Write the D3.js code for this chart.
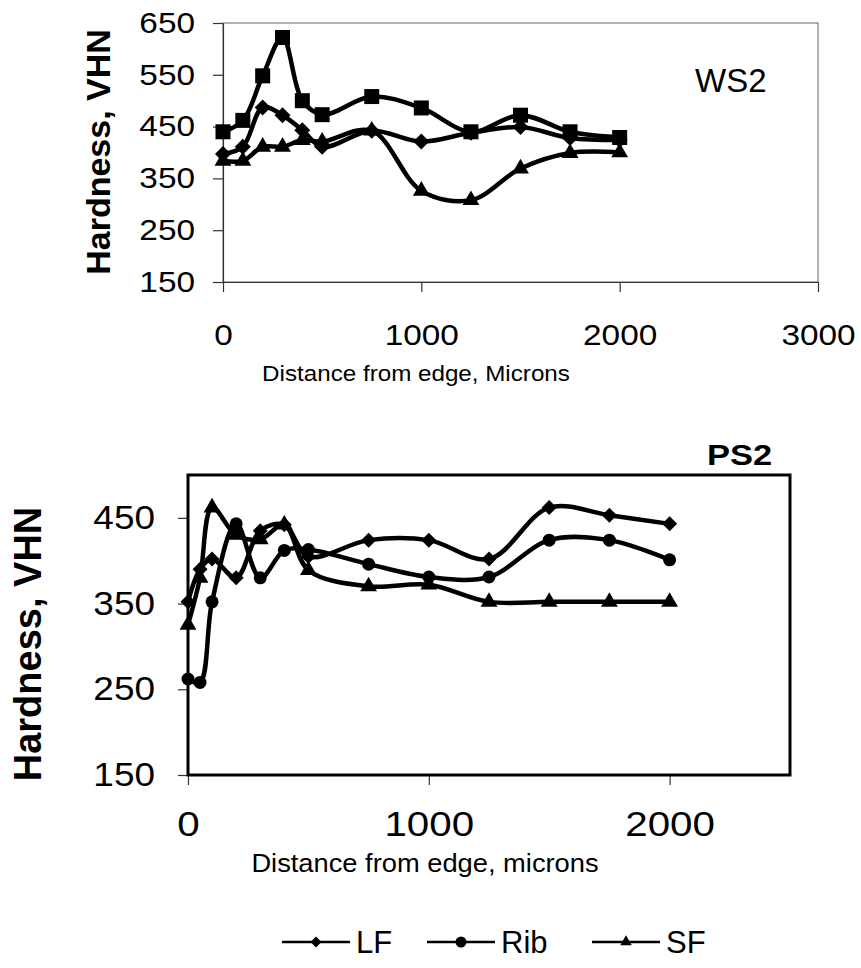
<!DOCTYPE html>
<html>
<head>
<meta charset="utf-8">
<script src="https://cdn.jsdelivr.net/npm/d3@7"></script>
<style>
  body { margin: 0; background: #fff; }
  text { font-family: "Liberation Sans", Arial, sans-serif; fill: #000; }
</style>
</head>
<body>
<script>
// WS2 (top panel)
const wsDist = [0, 100, 200, 300, 400, 500, 750, 1000, 1250, 1500, 1750, 2000]
const wsLF = [397, 411, 487, 472, 443, 411, 442, 421, 438, 449, 428, 424]
const wsRib = [440, 462, 548, 622, 500, 473, 508, 486, 440, 472, 440, 429]
const wsSF = [384, 384, 411, 411, 424, 421, 442, 326, 308, 369, 399, 400]
const wsYTicks = [150, 250, 350, 450, 550, 650]
const wsXTicks = [0, 1000, 2000, 3000]

// PS2 (bottom panel)
const psDist = [0, 50, 100, 200, 300, 400, 500, 750, 1000, 1250, 1500, 1750, 2000]
const psLF = [352, 390, 402, 380, 435, 442, 405, 424, 424, 402, 462, 453, 443]
const psRib = [262, 258, 352, 443, 380, 412, 413, 396, 381, 381, 424, 424, 401]
const psSF = [325, 380, 462, 430, 425, 442, 389, 370, 372, 352, 352, 352, 352]
const psYTicks = [150, 250, 350, 450]
const psXTicks = [0, 1000, 2000]

const legendNames = ['LF', 'Rib', 'SF']

const SX = 1.15 // glyphs in the scan are a bit wider than Arial

const svg = d3.select('body').append('svg')
  .attr('width', 861)
  .attr('height', 968)

svg.append('rect').attr('width', 861).attr('height', 968).attr('fill', '#fff')

function stretch(sel, k) {
  sel.each(function () {
    const t = d3.select(this)
    const x = +t.attr('x') || 0
    const y = +t.attr('y') || 0
    t.attr('x', 0).attr('y', 0)
      .attr('transform', `translate(${x},${y}) scale(${k},1)`)
  })
}

function marker(type, size) {
  if (type === 'diamond') {
    const r = size / 2
    return `M0,${-r}L${r},0L0,${r}L${-r},0Z`
  }
  if (type === 'square') {
    const r = size / 2
    return `M${-r},${-r}H${r}V${r}H${-r}Z`
  }
  if (type === 'circle') {
    return d3.symbol(d3.symbolCircle, Math.PI * (size / 2) ** 2)()
  }
  return d3.symbol(d3.symbolTriangle, size * size * 0.48)()
}

function drawSeries(g, x, y, dist, vals, type, lw, msize) {
  const pts = dist.map((d, i) => [d, vals[i]])
  const line = d3.line()
    .x(d => x(d[0]))
    .y(d => y(d[1]))
    .curve(d3.curveCatmullRom.alpha(0.5))
  g.append('path')
    .attr('d', line(pts))
    .attr('fill', 'none')
    .attr('stroke', '#000')
    .attr('stroke-width', lw)
    .attr('stroke-linejoin', 'round')
  g.selectAll(null)
    .data(pts)
    .enter().append('path')
    .attr('transform', d => `translate(${x(d[0])},${y(d[1])})`)
    .attr('d', marker(type, msize))
    .attr('fill', '#000')
}

const fmt = d3.format('d')

// ---------- top panel: WS2 ----------
const x1 = d3.scaleLinear().domain([0, 3000]).range([223, 818])
const y1 = d3.scaleLinear().domain([150, 650]).range([282, 23])

const gTop = svg.append('g')

gTop.append('rect')
  .attr('x', x1.range()[0]).attr('y', y1.range()[1])
  .attr('width', x1.range()[1] - x1.range()[0])
  .attr('height', y1.range()[0] - y1.range()[1])
  .attr('fill', 'none').attr('stroke', '#666').attr('stroke-width', 1)

const ax1 = gTop.append('g')
  .attr('transform', `translate(${x1.range()[0]},0)`)
  .call(d3.axisLeft(y1).tickValues(wsYTicks).tickFormat(fmt).tickSize(10).tickPadding(18).tickSizeOuter(0))
const bx1 = gTop.append('g')
  .attr('transform', `translate(0,${y1.range()[0]})`)
  .call(d3.axisBottom(x1).tickValues(wsXTicks).tickFormat(fmt).tickSize(10).tickPadding(32).tickSizeOuter(0))

;[ax1, bx1].forEach(a => {
  a.select('.domain').attr('stroke', '#333').attr('stroke-width', 1.2)
  a.selectAll('.tick line').attr('stroke', '#333').attr('stroke-width', 1.2)
  a.selectAll('.tick text')
    .attr('font-size', 29)
    .attr('font-family', '"Liberation Sans", Arial, sans-serif')
    .attr('fill', '#000')
  stretch(a.selectAll('.tick text'), SX)
})

drawSeries(gTop, x1, y1, wsDist, wsRib, 'square', 4.5, 15)
drawSeries(gTop, x1, y1, wsDist, wsLF, 'diamond', 4.5, 16)
drawSeries(gTop, x1, y1, wsDist, wsSF, 'triangle', 4.5, 16)

gTop.append('text')
  .attr('x', 695).attr('y', 92)
  .attr('font-size', 33)
  .text('WS2')

gTop.append('text')
  .attr('transform', 'translate(110,152) rotate(-90)')
  .attr('text-anchor', 'middle')
  .attr('font-size', 34)
  .attr('font-weight', 'bold')
  .text('Hardness, VHN')

gTop.append('text')
  .attr('x', 416).attr('y', 381)
  .attr('text-anchor', 'middle')
  .attr('font-size', 22)
  .text('Distance from edge, Microns')
  .call(stretch, 1.1)

// ---------- bottom panel: PS2 ----------
const x2 = d3.scaleLinear().domain([0, 2500]).range([188, 790])
const y2 = d3.scaleLinear().domain([150, 500]).range([775, 475])

const gBot = svg.append('g')

const ax2 = gBot.append('g')
  .attr('transform', `translate(${x2.range()[0]},0)`)
  .call(d3.axisLeft(y2).tickValues(psYTicks).tickFormat(fmt).tickSize(10).tickPadding(23).tickSizeOuter(0))
const bx2 = gBot.append('g')
  .attr('transform', `translate(0,${y2.range()[0]})`)
  .call(d3.axisBottom(x2).tickValues(psXTicks).tickFormat(fmt).tickSize(10).tickPadding(25).tickSizeOuter(0))

;[ax2, bx2].forEach(a => {
  a.select('.domain').remove()
  a.selectAll('.tick line').attr('stroke', '#333').attr('stroke-width', 1.2)
  a.selectAll('.tick text')
    .attr('font-family', '"Liberation Sans", Arial, sans-serif')
    .attr('fill', '#000')
})
ax2.selectAll('.tick text').attr('font-size', 33)
bx2.selectAll('.tick text').attr('font-size', 36)
stretch(ax2.selectAll('.tick text'), 1.12)
stretch(bx2.selectAll('.tick text'), 1.12)

gBot.append('rect')
  .attr('x', x2.range()[0]).attr('y', y2.range()[1])
  .attr('width', x2.range()[1] - x2.range()[0])
  .attr('height', y2.range()[0] - y2.range()[1])
  .attr('fill', 'none').attr('stroke', '#000').attr('stroke-width', 3)

drawSeries(gBot, x2, y2, psDist, psLF, 'diamond', 4.5, 15)
drawSeries(gBot, x2, y2, psDist, psRib, 'circle', 4.5, 13)
drawSeries(gBot, x2, y2, psDist, psSF, 'triangle', 4.5, 16)

gBot.append('text')
  .attr('x', 707).attr('y', 465)
  .attr('font-size', 30)
  .attr('font-weight', 'bold')
  .text('PS2')
  .call(stretch, SX)

gBot.append('text')
  .attr('transform', 'translate(41,644) rotate(-90)')
  .attr('text-anchor', 'middle')
  .attr('font-size', 38)
  .attr('font-weight', 'bold')
  .text('Hardness, VHN')

gBot.append('text')
  .attr('x', 425).attr('y', 872)
  .attr('text-anchor', 'middle')
  .attr('font-size', 26)
  .text('Distance from edge, microns')
  .call(stretch, 1.05)

// legend
const legendTypes = ['diamond', 'circle', 'triangle']
const legendX = [282, 427, 592]
const legend = gBot.append('g').attr('transform', 'translate(0,942)')
legendNames.forEach((name, i) => {
  const lg = legend.append('g').attr('transform', `translate(${legendX[i]},0)`)
  lg.append('line').attr('x1', 0).attr('x2', 68).attr('y1', 0).attr('y2', 0)
    .attr('stroke', '#000').attr('stroke-width', 2.5)
  lg.append('path').attr('transform', 'translate(34,0)')
    .attr('d', marker(legendTypes[i], 11)).attr('fill', '#000')
  lg.append('text').attr('x', 74).attr('y', 11)
    .attr('font-size', 31)
    .text(name)
})
</script>
</body>
</html>
